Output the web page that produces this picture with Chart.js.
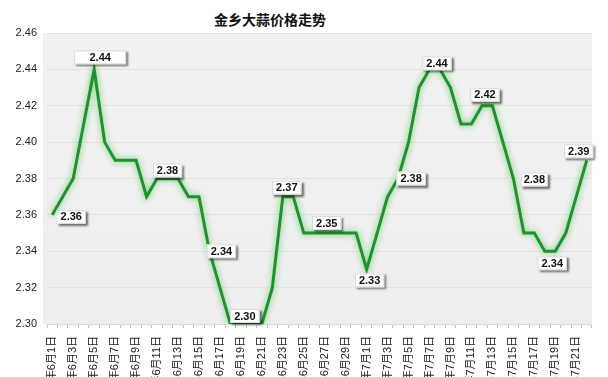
<!DOCTYPE html>
<html>
<head>
<meta charset="utf-8">
<script src="https://cdn.jsdelivr.net/npm/chart.js@4/dist/chart.umd.min.js"></script>
<style>
    html, body { margin: 0; padding: 0; background: #fff; overflow: hidden; width: 608px; height: 377px; }
    #wrap { position: relative; width: 608px; height: 377px; overflow: hidden; }
    #title { position: absolute; left: 0; top: 9px; width: 540px; text-align: center; font: bold 14px "Noto Sans CJK SC", sans-serif; color: #111; }
    canvas { position: absolute; left: 0; top: 0; }
</style>
</head>
<body>
<div id="wrap">
    <div id="title">金乡大蒜价格走势</div>
    <canvas id="garlic" width="608" height="420"></canvas>
</div>
<script>
// dates 2017-06-01 .. 2017-07-22, one per day
const juneDays = Array.from({ length: 30 }, (_, i) => '2017年6月' + (i + 1) + '日');
const julyDays = Array.from({ length: 22 }, (_, i) => '2017年7月' + (i + 1) + '日');
const dateLabels = juneDays.concat(julyDays);

// price, yuan
const juneValues = [2.36, 2.37, 2.38, 2.41, 2.44, 2.40, 2.39, 2.39, 2.39, 2.37,
                    2.38, 2.38, 2.38, 2.37, 2.37, 2.34, 2.32, 2.30, 2.30, 2.30,
                    2.30, 2.32, 2.37, 2.37, 2.35, 2.35, 2.35, 2.35, 2.35, 2.35];
const julyValues = [2.33, 2.35, 2.37, 2.38, 2.40, 2.43, 2.44, 2.44, 2.43, 2.41,
                    2.41, 2.42, 2.42, 2.40, 2.38, 2.35, 2.35, 2.34, 2.34, 2.35,
                    2.37, 2.39];
const priceValues = juneValues.concat(julyValues);

const yTicks = [2.30, 2.32, 2.34, 2.36, 2.38, 2.40, 2.42, 2.44, 2.46];

// which points get a value box, and where the box sits relative to the point
const calloutPoints = [
    { i: 0, dx: 19, dy: 2 },
    { i: 4, dx: 6, dy: -12, w: 52 },
    { i: 11, dx: 0, dy: -8 },
    { i: 15, dx: 12, dy: 0 },
    { i: 18, dx: 4, dy: -8 },
    { i: 22, dx: 4, dy: -9 },
    { i: 26, dx: 2, dy: -10 },
    { i: 30, dx: 3, dy: 11 },
    { i: 33, dx: 13, dy: 0 },
    { i: 37, dx: -3, dy: -6 },
    { i: 41, dx: 3, dy: -11 },
    { i: 44, dx: 21, dy: 1, w: 27 },
    { i: 48, dx: -3, dy: 12 },
    { i: 51, dx: -8, dy: -9 }
];

const plotBackground = {
    id: 'plotBackground',
    beforeDraw: (chart) => {
        const { ctx, chartArea: a } = chart;
        const g = ctx.createLinearGradient(0, a.top, 0, a.bottom);
        g.addColorStop(0, '#f1f1f1');
        g.addColorStop(1, '#eeeeee');
        ctx.save();
        ctx.fillStyle = g;
        ctx.fillRect(a.left - 4, a.top, a.right - a.left + 4, a.bottom - a.top);
        ctx.restore();
    }
};

const lineGlow = {
    id: 'lineGlow',
    beforeDatasetDraw: (chart) => {
        const ctx = chart.ctx;
        ctx.save();
        ctx.shadowColor = 'rgba(100, 200, 100, 1)';
        ctx.shadowBlur = 6;
    },
    afterDatasetDraw: (chart) => {
        chart.ctx.restore();
    }
};

const callouts = {
    id: 'callouts',
    afterDatasetsDraw: (chart) => {
        const ctx = chart.ctx;
        const meta = chart.getDatasetMeta(0);
        ctx.save();
        ctx.font = 'bold 11px "Liberation Sans", Arial, sans-serif';
        ctx.textAlign = 'center';
        ctx.textBaseline = 'middle';
        calloutPoints.forEach(c => {
            const pt = meta.data[c.i];
            const text = priceValues[c.i].toFixed(2);
            const w = c.w || ctx.measureText(text).width + 8;
            const h = 14;
            const cx = pt.x + c.dx;
            const cy = pt.y + c.dy;

            ctx.save();
            ctx.shadowColor = 'rgba(0, 0, 0, 0.55)';
            ctx.shadowOffsetX = 2;
            ctx.shadowOffsetY = 2;
            ctx.shadowBlur = 2;
            ctx.fillStyle = '#ffffff';
            ctx.fillRect(cx - w / 2, cy - h / 2, w, h);
            ctx.restore();

            ctx.strokeStyle = '#d8d8d8';
            ctx.lineWidth = 1;
            ctx.strokeRect(cx - w / 2 + 0.5, cy - h / 2 + 0.5, w - 1, h - 1);

            ctx.fillStyle = '#111';
            ctx.fillText(text, cx, cy + 0.5);
        });
        ctx.restore();
    }
};

new Chart(document.getElementById('garlic').getContext('2d'), {
    type: 'line',
    data: {
        labels: dateLabels,
        datasets: [{
            data: priceValues,
            borderColor: '#1f9130',
            borderWidth: 3,
            pointRadius: 0,
            tension: 0,
            fill: false
        }]
    },
    options: {
        responsive: false,
        animation: false,
        layout: {
            padding: { left: 0, right: 7, top: 33, bottom: 0 }
        },
        plugins: {
            legend: { display: false },
            tooltip: { enabled: false },
            title: { display: false }
        },
        scales: {
            x: {
                offset: true,
                afterFit: (scale) => { scale.height = 96; },
                grid: {
                    display: true,
                    drawOnChartArea: false,
                    offset: true,
                    tickLength: 4,
                    color: '#bdbdbd'
                },
                border: { color: '#d9d9d9' },
                ticks: {
                    autoSkip: false,
                    minRotation: 90,
                    maxRotation: 90,
                    padding: 8,
                    color: '#222',
                    font: { size: 11, family: '"Liberation Sans", "Noto Sans CJK SC", sans-serif' },
                    callback: function (value, index) {
                        return index % 2 === 0 ? this.getLabelForValue(value) : '';
                    }
                }
            },
            y: {
                min: 2.30,
                max: 2.46,
                afterFit: (scale) => { scale.width = 47; },
                afterBuildTicks: (scale) => {
                    scale.ticks = yTicks.map(v => ({ value: v }));
                },
                grid: {
                    color: '#e2e2e2',
                    drawTicks: false
                },
                border: { display: false },
                ticks: {
                    padding: 10,
                    color: '#222',
                    font: { size: 11, family: '"Liberation Sans", Arial, sans-serif' },
                    callback: (value) => Number(value).toFixed(2)
                }
            }
        }
    },
    plugins: [plotBackground, lineGlow, callouts]
});
</script>
</body>
</html>
